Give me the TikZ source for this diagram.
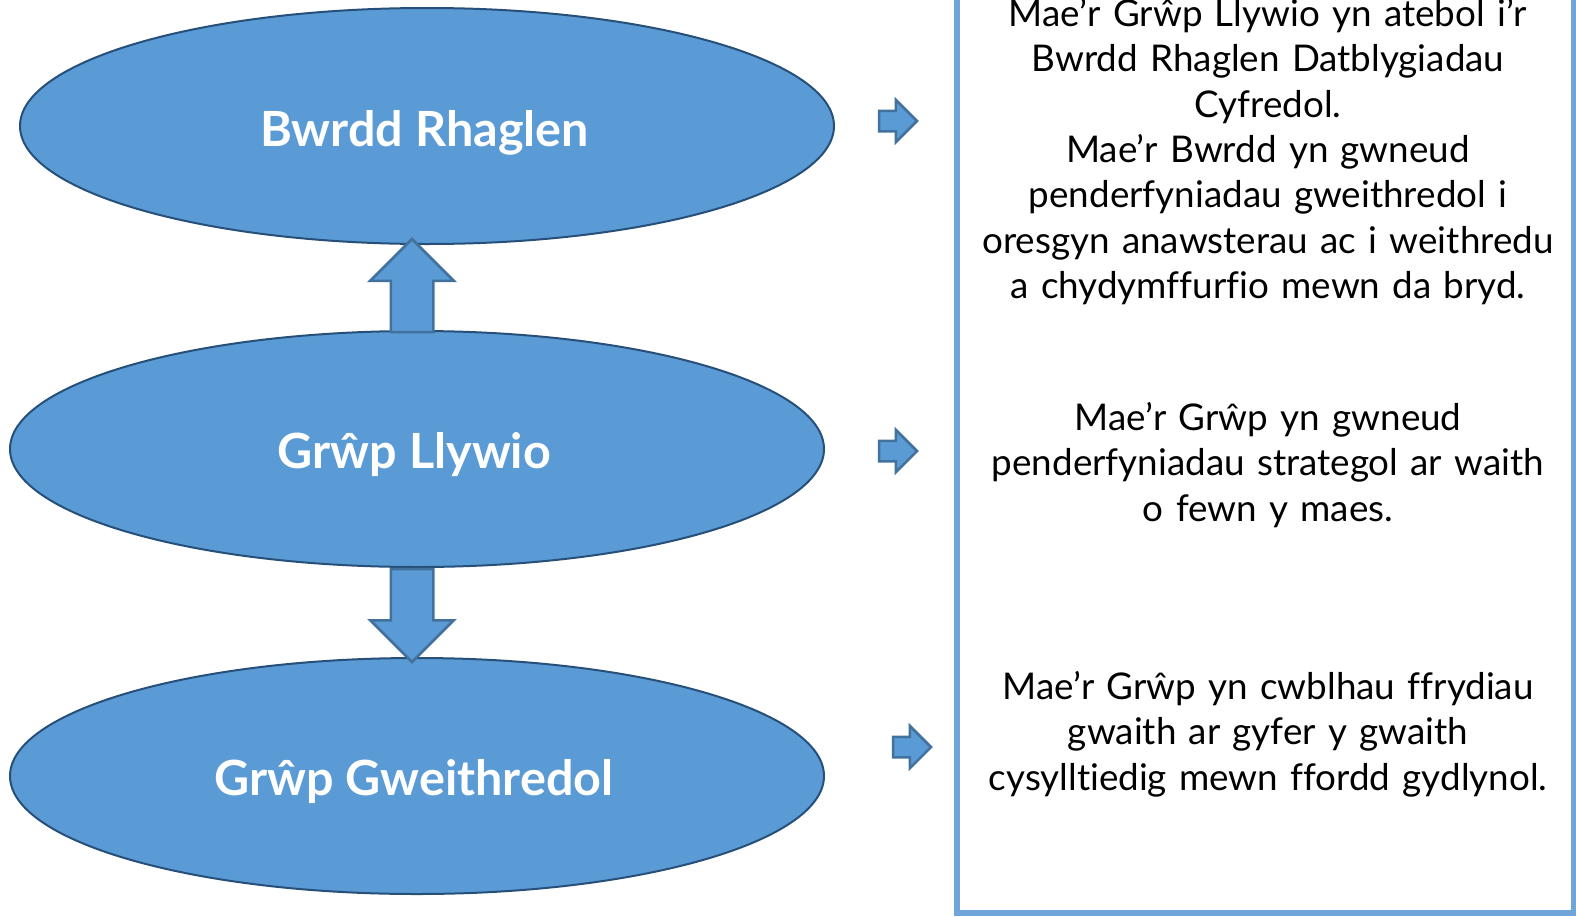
\documentclass[tikz,border=0pt]{standalone}
\usepackage{fontspec}
\setmainfont[Ligatures={NoCommon}]{Lato}
\newfontfamily\descfont[Ligatures={NoCommon},WordSpace=0.7]{Lato}
\usetikzlibrary{shapes.geometric,shapes.arrows,calc}
\definecolor{fillblue}{RGB}{91,155,213}
\definecolor{edgeblue}{RGB}{38,80,122}
\definecolor{arrowedge}{RGB}{65,113,156}
\definecolor{boxblue}{RGB}{112,165,218}
\tikzset{
  oval/.style={ellipse, draw=edgeblue, line width=2pt, fill=fillblue, minimum width=814pt, minimum height=236pt, inner sep=0pt},
  ovallabel/.style={text=white, font=\fontsize{48.5}{56}\selectfont\bfseries, inner sep=0pt},
  bigarrow/.style={single arrow, draw=arrowedge, line width=2.5pt, fill=fillblue, inner sep=20pt, outer sep=0pt, minimum height=93pt, single arrow head extend=20.5pt, single arrow tip angle=90, single arrow head indent=0pt},
  smallarrow/.style={single arrow, draw=arrowedge, line width=2.5pt, fill=fillblue, inner sep=9pt, outer sep=0pt, minimum height=38pt, single arrow head extend=11pt, single arrow tip angle=90, single arrow head indent=0pt},
  desc/.style={text width=620pt, align=center, font=\descfont\fontsize{36.8}{45.3}\selectfont, inner sep=0pt}
}
\begin{document}
\begin{tikzpicture}[x=1pt,y=-1pt]
\useasboundingbox (0,0) rectangle (1576,916);
\node[oval] (board) at (427,126) {};
\node[oval] (steer) at (417,449) {};
\node[oval] (ops) at (417,776) {};
\node[ovallabel, anchor=base] (lb) at (424.5,146) {Bwrdd Rhaglen};
\node[ovallabel, anchor=base] (ls) at (414.5,468) {Grŵp Llywio};
\node[ovallabel, anchor=base] (lo) at (414,795) {Grŵp Gweithredol};
\node[bigarrow, shape border rotate=90, anchor=tail] (up) at (412,332) {};
\node[bigarrow, shape border rotate=270, anchor=tail] (down) at (412,569) {};
\node[smallarrow, anchor=tail] (a1) at (879,121) {};
\node[smallarrow, anchor=tail] (a2) at (879,451) {};
\node[smallarrow, anchor=tail] (a3) at (893,747) {};
\draw[boxblue, line width=6pt] (957,-20) rectangle (1574,913);
\node[desc] (t1) at (1268,151.5) {Mae’r Grŵp Llywio yn atebol i’r\\Bwrdd Rhaglen Datblygiadau\\Cyfredol.\\Mae’r Bwrdd yn gwneud\\penderfyniadau gweithredol i\\oresgyn anawsterau ac i weithredu\\a chydymffurfio mewn da bryd.};
\node[desc] (t2) at (1268,465) {Mae’r Grŵp yn gwneud\\penderfyniadau strategol ar waith\\o fewn y maes.};
\node[desc] (t3) at (1268,734) {Mae’r Grŵp yn cwblhau ffrydiau\\gwaith ar gyfer y gwaith\\cysylltiedig mewn ffordd gydlynol.};
\end{tikzpicture}
\end{document}
